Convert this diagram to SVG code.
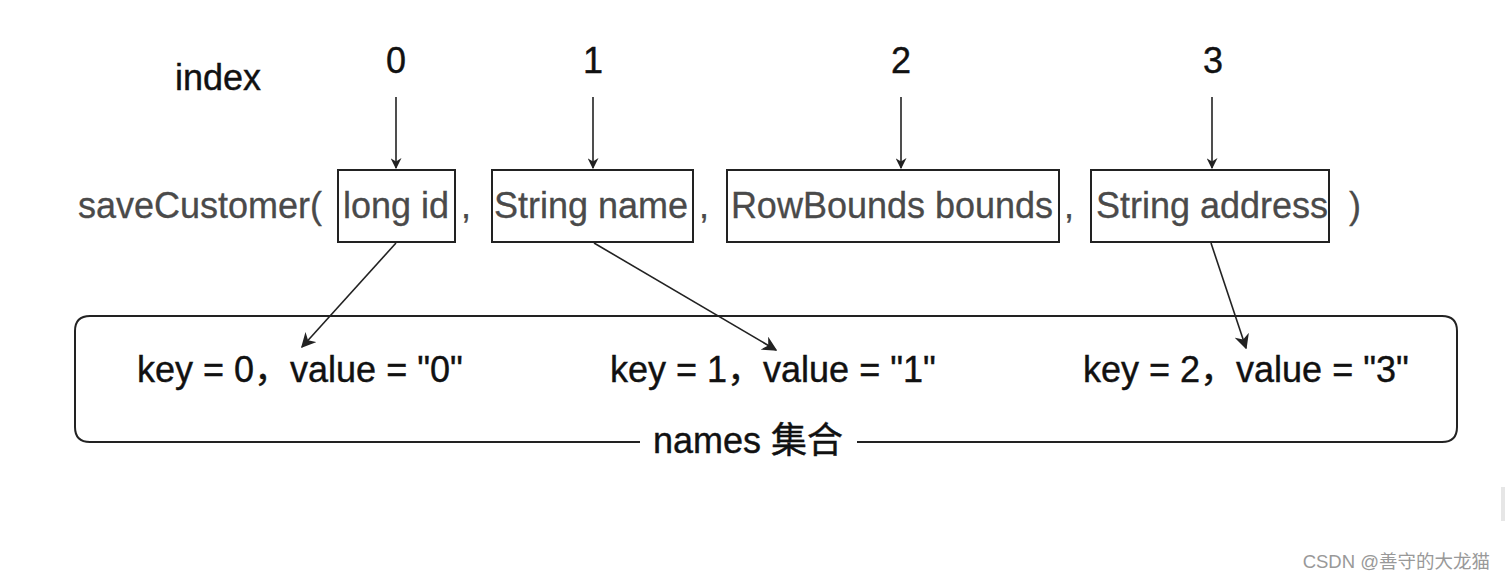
<svg xmlns="http://www.w3.org/2000/svg" width="1505" height="581" viewBox="0 0 1505 581">
<style>
.t{font-family:"Liberation Sans","Noto Sans CJK SC",sans-serif;font-size:36px}
.blk{fill:#111;stroke:#111;stroke-width:0.4}
.gry{fill:#4a4a4a;stroke:#4a4a4a;stroke-width:0.3}
.box{fill:none;stroke:#222;stroke-width:2}
.ln{fill:none;stroke:#222;stroke-width:1.6}
</style>
<defs>
<marker id="ah" viewBox="0 0 10 10" refX="9" refY="5" markerWidth="11" markerHeight="11" markerUnits="userSpaceOnUse" orient="auto">
<path d="M0,0 L10,5 L0,10 L3,5 Z" fill="#222"/>
</marker>
<marker id="ah2" viewBox="0 0 10 10" refX="9" refY="5" markerWidth="15" markerHeight="15" markerUnits="userSpaceOnUse" orient="auto">
<path d="M0,0 L10,5 L0,10 L3,5 Z" fill="#222"/>
</marker>
</defs>
<rect width="1505" height="581" fill="#fff"/>
<g id="index-label"><text class="t blk" x="175" y="90">index</text></g>
<g id="idx0"><text class="t blk" x="396" y="73" text-anchor="middle">0</text></g>
<g id="idx1"><text class="t blk" x="593" y="73" text-anchor="middle">1</text></g>
<g id="idx2"><text class="t blk" x="901" y="73" text-anchor="middle">2</text></g>
<g id="idx3"><text class="t blk" x="1213" y="73" text-anchor="middle">3</text></g>
<g id="method">
<text class="t gry" x="78" y="218">saveCustomer(</text>
<text class="t gry" x="461" y="218">,</text>
<text class="t gry" x="699" y="218">,</text>
<text class="t gry" x="1064" y="218">,</text>
<text class="t gry" x="1349" y="218">)</text>
</g>
<g id="p0"><rect class="box" x="338" y="170" width="117" height="72"/><text class="t gry" x="396" y="218" text-anchor="middle">long id</text></g>
<g id="p1"><rect class="box" x="492" y="170" width="201" height="72"/><text class="t gry" x="591" y="218" text-anchor="middle">String name</text></g>
<g id="p2"><rect class="box" x="727" y="170" width="332" height="72"/><text class="t gry" x="892" y="218" text-anchor="middle">RowBounds bounds</text></g>
<g id="p3"><rect class="box" x="1091" y="170" width="238" height="72"/><text class="t gry" x="1212" y="218" text-anchor="middle">String address</text></g>
<g id="names">
<path class="box" d="M640,442 H90 Q75,442 75,427 V331 Q75,316 90,316 H1442 Q1457,316 1457,331 V427 Q1457,442 1442,442 H857"/>
<text class="t blk" x="748" y="453" text-anchor="middle">names 集合</text>
</g>
<g id="e0"><text class="t blk" x="137" y="382">key = 0，value = "0"</text></g>
<g id="e1"><text class="t blk" x="610" y="382">key = 1，value = "1"</text></g>
<g id="e2"><text class="t blk" x="1083" y="382">key = 2，value = "3"</text></g>
<g id="connectors">
<line class="ln" x1="396" y1="97" x2="396" y2="168" marker-end="url(#ah)"/>
<line class="ln" x1="593" y1="97" x2="593" y2="168" marker-end="url(#ah)"/>
<line class="ln" x1="901" y1="97" x2="901" y2="168" marker-end="url(#ah)"/>
<line class="ln" x1="1212" y1="97" x2="1212" y2="168" marker-end="url(#ah)"/>
<line class="ln" x1="396" y1="243" x2="302" y2="347" marker-end="url(#ah2)"/>
<line class="ln" x1="594" y1="243" x2="776" y2="350" marker-end="url(#ah2)"/>
<line class="ln" x1="1211" y1="243" x2="1246" y2="348" marker-end="url(#ah2)"/>
</g>
<rect x="1501" y="487" width="4" height="34" fill="#e6e6e6"/>
<text x="1490" y="568" text-anchor="end" style="font-family:'Liberation Sans','Noto Sans CJK SC',sans-serif;font-size:18.5px;fill:#999">CSDN @善守的大龙猫</text>
</svg>
